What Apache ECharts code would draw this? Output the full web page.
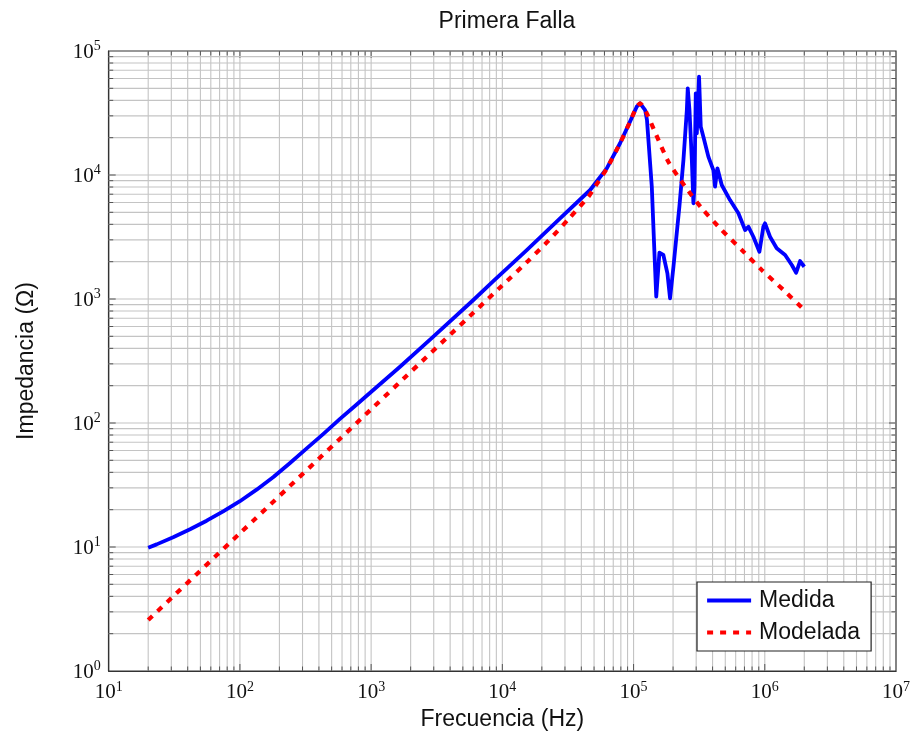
<!DOCTYPE html>
<html><head><meta charset="utf-8">
<script src="https://cdn.jsdelivr.net/npm/echarts@6/dist/echarts.min.js"></script>
<style>html,body{margin:0;padding:0;background:#fff}#c{width:916px;height:742px}</style>
</head><body><div id="c"></div>
<script>
// ---- data ----
const medidaFreq = [20, 23.2, 31, 41.7, 55.8, 74.6, 100, 134, 180, 241, 323, 433, 579, 776, 925, 1660, 2979, 6012, 8531, 15350, 27540, 46670, 62520, 78890, 93970, 105700, 112200, 122500, 126500, 137700, 143600, 148900, 157400, 168700, 181100, 189700, 201400, 213300, 223400, 239900, 254700, 258800, 266700, 278000, 285800, 291100, 297900, 303400, 315500, 325100, 340400, 371500, 405500, 417800, 435500, 469900, 543300, 629500, 707900, 749900, 818500, 909900, 975000, 1004600, 1096000, 1233000, 1429000, 1607000, 1734000, 1858000, 2000000];
const medidaZ = [9.86, 10.5, 12.0, 13.9, 16.3, 19.4, 23.4, 29.0, 36.7, 47.6, 62.4, 81.8, 108, 141, 166, 284, 497, 982, 1396, 2483, 4477, 7568, 11320, 18030, 26920, 35560, 37840, 33420, 27800, 8054, 2642, 1045, 2360, 2265, 1611, 1014, 1824, 3388, 5546, 13210, 33420, 50000, 33420, 13210, 5916, 8054, 45600, 21680, 62090, 24490, 20370, 14060, 10960, 8054, 11320, 8299, 6281, 4909, 3597, 3828, 3177, 2404, 3828, 4074, 3177, 2564, 2265, 1879, 1629, 2023, 1820];
const modeladaFreq = [20, 100, 1000, 10000, 15780, 22440, 31840, 45290, 50930, 62660, 78890, 93970, 105700, 112200, 125900, 148900, 184100, 247200, 331100, 469900, 668300, 948400, 1387000, 2000000];
const modeladaZ = [2.58, 12.9, 129, 1288, 2037, 2951, 4395, 6683, 8054, 11320, 18030, 26920, 35560, 37840, 31480, 21040, 12790, 8054, 5383, 3597, 2483, 1714, 1183, 815];
const xTickExponents = [1, 2, 3, 4, 5, 6, 7];
const yTickExponents = [0, 1, 2, 3, 4, 5];
const seriesNames = ['Medida', 'Modelada'];
const titleText = 'Primera Falla';
const xName = 'Frecuencia (Hz)';
const yName = 'Impedancia (Ω)';

// ---- build ----
const zip = (a, b) => a.map((v, i) => [v, b[i]]);
const gridData = [];
for (let e = xTickExponents[0]; e < xTickExponents[xTickExponents.length - 1]; e++) {
  for (let m = 1; m <= 9; m++) {
    if (e === xTickExponents[0] && m === 1) continue;
    gridData.push([m * Math.pow(10, e), 1, 0, m === 1 ? 1 : 0]);
  }
}
for (let e = yTickExponents[0]; e < yTickExponents[yTickExponents.length - 1]; e++) {
  for (let m = 1; m <= 9; m++) {
    if (e === yTickExponents[0] && m === 1) continue;
    gridData.push([10, m * Math.pow(10, e), 1, m === 1 ? 1 : 0]);
  }
}
function renderGrid(params, api) {
  const cs = params.coordSys;
  const kind = api.value(2), major = api.value(3);
  const p = api.coord([api.value(0), api.value(1)]);
  const tl = major ? 7 : 4.5;
  const gs = {stroke: '#c4c4c4', lineWidth: 1.1};
  const ts = {stroke: '#555', lineWidth: 1};
  if (kind === 0) {
    const x = p[0];
    return {type: 'group', children: [
      {type: 'line', shape: {x1: x, y1: cs.y, x2: x, y2: cs.y + cs.height}, style: gs},
      {type: 'line', shape: {x1: x, y1: cs.y + cs.height, x2: x, y2: cs.y + cs.height - tl}, style: ts},
      {type: 'line', shape: {x1: x, y1: cs.y, x2: x, y2: cs.y + tl}, style: ts}
    ]};
  }
  const y = p[1];
  return {type: 'group', children: [
    {type: 'line', shape: {x1: cs.x, y1: y, x2: cs.x + cs.width, y2: y}, style: gs},
    {type: 'line', shape: {x1: cs.x, y1: y, x2: cs.x + tl, y2: y}, style: ts},
    {type: 'line', shape: {x1: cs.x + cs.width, y1: y, x2: cs.x + cs.width - tl, y2: y}, style: ts}
  ]};
}
const labelFmt = v => '{b|10}{s|' + Math.round(Math.log10(v)) + '}';
const rich = {
  b: {fontFamily: 'Liberation Serif', fontSize: 21, color: '#111', verticalAlign: 'bottom'},
  s: {fontFamily: 'Liberation Serif', fontSize: 14, color: '#111', verticalAlign: 'bottom', padding: [0, 0, 9, 0]}
};
const sans = 'Liberation Sans';

const chart = echarts.init(document.getElementById('c'), null, {renderer: 'canvas'});
chart.setOption({
  animation: false,
  backgroundColor: '#fff',
  title: {text: titleText, left: 502, textAlign: 'center', top: 5,
    textStyle: {fontFamily: sans, fontSize: 23, fontWeight: 'normal', color: '#111'}},
  grid: {left: 108.7, right: 20, top: 51, bottom: 71, show: true, borderColor: '#333', borderWidth: 1.2, backgroundColor: '#fff'},
  legend: {
    data: seriesNames, orient: 'vertical', left: 697, top: 582,
    itemWidth: 44, itemHeight: 14, itemGap: 9,
    padding: [7, 11, 7, 8],
    backgroundColor: '#fff', borderColor: '#222', borderWidth: 1.2, borderRadius: 0,
    textStyle: {fontFamily: sans, fontSize: 23, color: '#111', padding: [0, 0, 0, 3]},
    lineStyle: {width: 4.2},
    itemStyle: {color: 'rgba(0,0,0,0)', borderColor: 'rgba(0,0,0,0)', borderWidth: 0, opacity: 0}
  },
  xAxis: {
    type: 'log', logBase: 10, min: Math.pow(10, xTickExponents[0]), max: Math.pow(10, xTickExponents[xTickExponents.length - 1]),
    name: xName, nameLocation: 'middle', nameGap: 36,
    nameTextStyle: {fontFamily: sans, fontSize: 23, color: '#111'},
    axisLine: {show: true, lineStyle: {color: '#333', width: 1.2}},
    axisTick: {show: false}, splitLine: {show: false}, minorTick: {show: false},
    axisLabel: {formatter: labelFmt, rich: rich, margin: 9}
  },
  yAxis: {
    type: 'log', logBase: 10, min: Math.pow(10, yTickExponents[0]), max: Math.pow(10, yTickExponents[yTickExponents.length - 1]),
    name: yName, nameLocation: 'middle', nameGap: 71, nameRotate: 90,
    nameTextStyle: {fontFamily: sans, fontSize: 23, color: '#111'},
    axisLine: {show: true, lineStyle: {color: '#333', width: 1.2}},
    axisTick: {show: false}, splitLine: {show: false}, minorTick: {show: false},
    axisLabel: {formatter: labelFmt, rich: rich, margin: 8}
  },
  series: [
    {type: 'custom', name: 'grid', data: gridData, renderItem: renderGrid, silent: true, z: 1, clip: false,
      encode: {x: 0, y: 1}},
    {type: 'line', name: seriesNames[0], data: zip(medidaFreq, medidaZ), symbol: 'none', z: 3,
      lineStyle: {color: '#0000ff', width: 3.8, join: 'round'}, itemStyle: {color: '#0000ff'}},
    {type: 'line', name: seriesNames[1], data: zip(modeladaFreq, modeladaZ), symbol: 'none', z: 4, smooth: 0.2,
      lineStyle: {color: '#ff0000', width: 4.2, type: [6, 7]}, itemStyle: {color: '#ff0000'}}
  ]
});
</script>
</body></html>
